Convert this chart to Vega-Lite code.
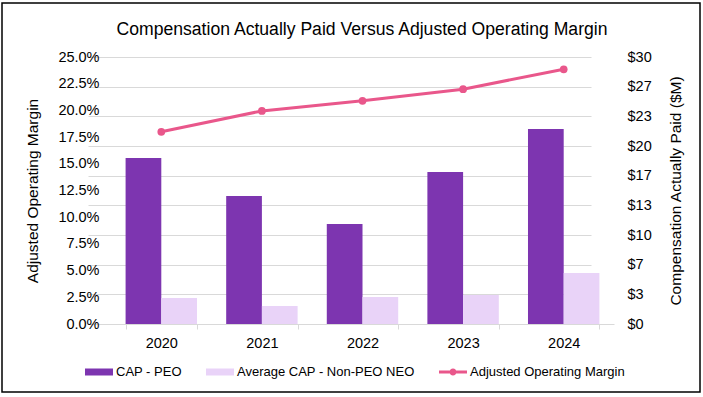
{
  "$schema": "https://vega.github.io/schema/vega-lite/v6.json",
  "width": 698,
  "height": 389,
  "autosize": {"type": "none"},
  "padding": {"left": 2, "top": 3, "right": 3, "bottom": 5},
  "title": {
    "text": "Compensation Actually Paid Versus Adjusted Operating Margin",
    "fontSize": 17.6,
    "fontWeight": "normal",
    "font": "Liberation Sans",
    "color": "#000000",
    "anchor": "middle",
    "frame": "group",
    "offset": -36,
    "dx": 11
  },
  "datasets": {
    "cap": [
      {"year": "2020", "series": "CAP - PEO", "value": 18.65},
      {"year": "2020", "series": "Average CAP - Non-PEO NEO", "value": 2.92},
      {"year": "2021", "series": "CAP - PEO", "value": 14.38},
      {"year": "2021", "series": "Average CAP - Non-PEO NEO", "value": 2.02},
      {"year": "2022", "series": "CAP - PEO", "value": 11.24},
      {"year": "2022", "series": "Average CAP - Non-PEO NEO", "value": 3.03},
      {"year": "2023", "series": "CAP - PEO", "value": 17.08},
      {"year": "2023", "series": "Average CAP - Non-PEO NEO", "value": 3.26},
      {"year": "2024", "series": "CAP - PEO", "value": 21.9},
      {"year": "2024", "series": "Average CAP - Non-PEO NEO", "value": 5.73}
    ],
    "margin": [
      {"year": "2020", "series": "Adjusted Operating Margin", "margin": 18.0},
      {"year": "2021", "series": "Adjusted Operating Margin", "margin": 19.95},
      {"year": "2022", "series": "Adjusted Operating Margin", "margin": 20.9},
      {"year": "2023", "series": "Adjusted Operating Margin", "margin": 21.99},
      {"year": "2024", "series": "Adjusted Operating Margin", "margin": 23.85}
    ]
  },
  "encoding": {
    "x": {
      "field": "year",
      "type": "nominal",
      "scale": {"range": [109, 612], "paddingInner": 0.29, "paddingOuter": 0.145}
    }
  },
  "layer": [
    {
      "data": {"name": "cap"},
      "mark": {"type": "bar"},
      "encoding": {
        "x": {
          "field": "year",
          "type": "nominal",
          "axis": {
            "title": null,
            "offset": -68,
            "labelAngle": 0,
            "labelFontSize": 14.5,
            "labelPadding": 7,
            "ticks": true,
            "tickBand": "extent",
            "tickSize": 5,
            "tickColor": "#d9d9d9",
            "domainColor": "#d9d9d9",
            "domainWidth": 1
          }
        },
        "xOffset": {
          "field": "series",
          "type": "nominal",
          "sort": ["CAP - PEO", "Average CAP - Non-PEO NEO"],
          "scale": {"paddingInner": 0, "paddingOuter": 0}
        },
        "y": {
          "field": "value",
          "type": "quantitative",
          "scale": {"domain": [0, 30], "nice": false, "range": [321, 54]},
          "axis": {
            "orient": "right",
            "offset": -86,
            "title": "Compensation Actually Paid ($M)",
            "titleFontSize": 15.5,
            "titleAngle": 270,
            "titlePadding": 32,
            "values": [0, 3.3333, 6.6667, 10, 13.3333, 16.6667, 20, 23.3333, 26.6667, 30],
            "labelExpr": "'$' + format(datum.value, '.0f')",
            "labelFontSize": 14.5,
            "labelPadding": 13,
            "grid": true,
            "gridColor": "#d9d9d9",
            "domain": false,
            "ticks": false
          }
        },
        "color": {
          "field": "series",
          "type": "nominal",
          "scale": {
            "domain": ["CAP - PEO", "Average CAP - Non-PEO NEO", "Adjusted Operating Margin"],
            "range": ["#7D35B0", "#E9D3F8", "#E9578B"]
          },
          "legend": {
            "title": null,
            "orient": "none",
            "legendX": 83,
            "legendY": 355,
            "direction": "horizontal",
            "labelFontSize": 13,
            "labelLimit": 0,
            "labelOffset": 3,
            "columnPadding": 24,
            "symbolSize": 784,
            "encode": {
              "symbols": {
                "update": {
                  "shape": {"signal": "datum.value === 'Adjusted Operating Margin' ? 'M-1,-0.1H1V0.1H-1Z M-0.25,0A0.25,0.25 0 1 1 0.25,0A0.25,0.25 0 1 1 -0.25,0Z' : 'M-1,-0.25H1V0.25H-1Z'"},
                  "strokeWidth": {"value": 0}
                }
              }
            }
          }
        }
      }
    },
    {
      "data": {"name": "margin"},
      "mark": {"type": "line", "strokeWidth": 3, "point": {"size": 60, "filled": true}},
      "encoding": {
        "x": {"field": "year", "type": "nominal"},
        "y": {
          "field": "margin",
          "type": "quantitative",
          "scale": {"domain": [0, 25], "nice": false, "range": [321, 54]},
          "axis": {
            "orient": "left",
            "offset": -109,
            "title": "Adjusted Operating Margin",
            "titleFontSize": 15.5,
            "titlePadding": 17,
            "values": [0, 2.5, 5, 7.5, 10, 12.5, 15, 17.5, 20, 22.5, 25],
            "labelExpr": "format(datum.value, '.1f') + '%'",
            "labelFontSize": 14.5,
            "labelPadding": 12,
            "grid": false,
            "domain": false,
            "ticks": false
          }
        },
        "color": {"field": "series", "type": "nominal"}
      }
    }
  ],
  "resolve": {"scale": {"y": "independent"}},
  "config": {
    "font": "Liberation Sans",
    "view": {"stroke": "#000000", "strokeWidth": 1.5},
    "axis": {"labelColor": "#000000", "titleColor": "#000000", "titleFontWeight": "normal"},
    "legend": {"labelColor": "#000000"}
  }
}
